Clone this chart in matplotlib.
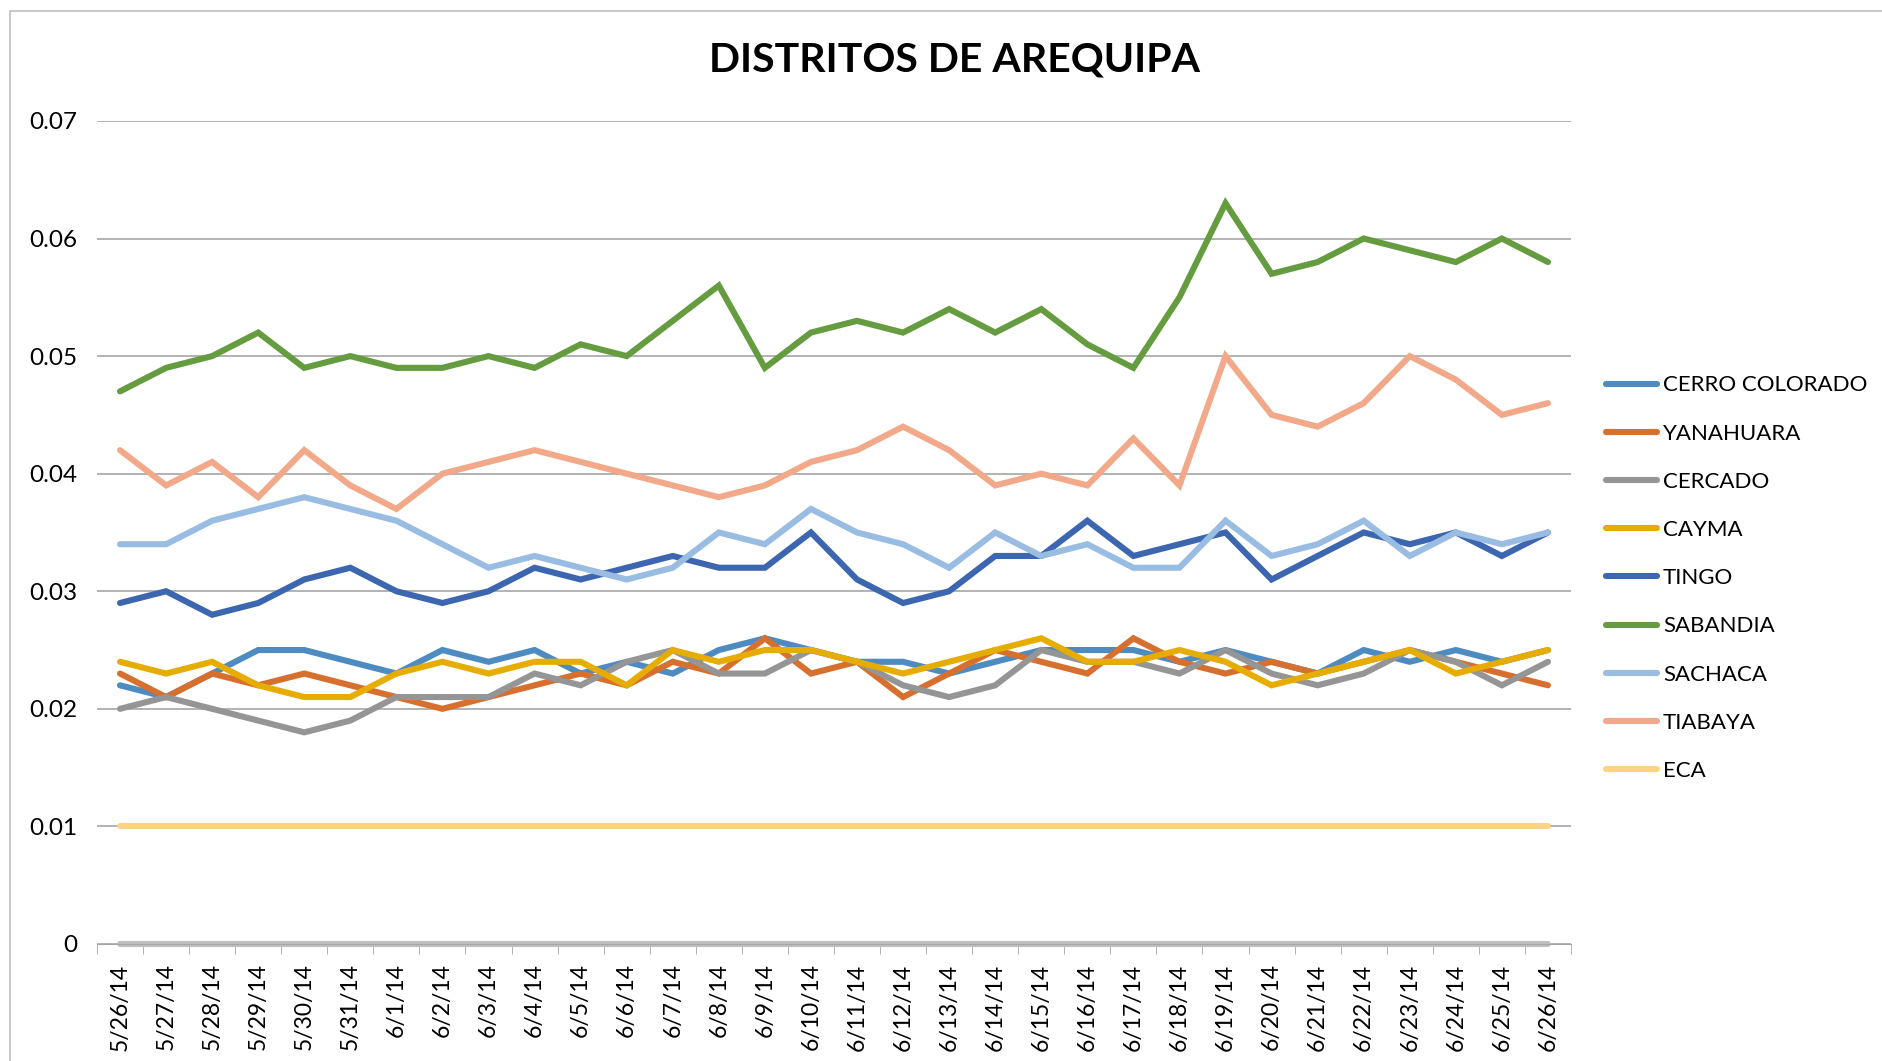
import matplotlib.pyplot as plt
import numpy as np
from matplotlib.patches import Rectangle

plt.rcParams["font.family"] = ["Lato", "DejaVu Sans"]

fechas = [
    "5/26/14", "5/27/14", "5/28/14", "5/29/14", "5/30/14", "5/31/14",
    "6/1/14", "6/2/14", "6/3/14", "6/4/14", "6/5/14", "6/6/14", "6/7/14",
    "6/8/14", "6/9/14", "6/10/14", "6/11/14", "6/12/14", "6/13/14",
    "6/14/14", "6/15/14", "6/16/14", "6/17/14", "6/18/14", "6/19/14",
    "6/20/14", "6/21/14", "6/22/14", "6/23/14", "6/24/14", "6/25/14",
    "6/26/14",
]

cerro_colorado = [0.022, 0.021, 0.023, 0.025, 0.025, 0.024, 0.023, 0.025,
                  0.024, 0.025, 0.023, 0.024, 0.023, 0.025, 0.026, 0.025,
                  0.024, 0.024, 0.023, 0.024, 0.025, 0.025, 0.025, 0.024,
                  0.025, 0.024, 0.023, 0.025, 0.024, 0.025, 0.024, 0.025]
yanahuara = [0.023, 0.021, 0.023, 0.022, 0.023, 0.022, 0.021, 0.020,
             0.021, 0.022, 0.023, 0.022, 0.024, 0.023, 0.026, 0.023,
             0.024, 0.021, 0.023, 0.025, 0.024, 0.023, 0.026, 0.024,
             0.023, 0.024, 0.023, 0.024, 0.025, 0.024, 0.023, 0.022]
cercado = [0.020, 0.021, 0.020, 0.019, 0.018, 0.019, 0.021, 0.021,
           0.021, 0.023, 0.022, 0.024, 0.025, 0.023, 0.023, 0.025,
           0.024, 0.022, 0.021, 0.022, 0.025, 0.024, 0.024, 0.023,
           0.025, 0.023, 0.022, 0.023, 0.025, 0.024, 0.022, 0.024]
cayma = [0.024, 0.023, 0.024, 0.022, 0.021, 0.021, 0.023, 0.024,
         0.023, 0.024, 0.024, 0.022, 0.025, 0.024, 0.025, 0.025,
         0.024, 0.023, 0.024, 0.025, 0.026, 0.024, 0.024, 0.025,
         0.024, 0.022, 0.023, 0.024, 0.025, 0.023, 0.024, 0.025]
tingo = [0.029, 0.030, 0.028, 0.029, 0.031, 0.032, 0.030, 0.029,
         0.030, 0.032, 0.031, 0.032, 0.033, 0.032, 0.032, 0.035,
         0.031, 0.029, 0.030, 0.033, 0.033, 0.036, 0.033, 0.034,
         0.035, 0.031, 0.033, 0.035, 0.034, 0.035, 0.033, 0.035]
sabandia = [0.047, 0.049, 0.050, 0.052, 0.049, 0.050, 0.049, 0.049,
            0.050, 0.049, 0.051, 0.050, 0.053, 0.056, 0.049, 0.052,
            0.053, 0.052, 0.054, 0.052, 0.054, 0.051, 0.049, 0.055,
            0.063, 0.057, 0.058, 0.060, 0.059, 0.058, 0.060, 0.058]
sachaca = [0.034, 0.034, 0.036, 0.037, 0.038, 0.037, 0.036, 0.034,
           0.032, 0.033, 0.032, 0.031, 0.032, 0.035, 0.034, 0.037,
           0.035, 0.034, 0.032, 0.035, 0.033, 0.034, 0.032, 0.032,
           0.036, 0.033, 0.034, 0.036, 0.033, 0.035, 0.034, 0.035]
tiabaya = [0.042, 0.039, 0.041, 0.038, 0.042, 0.039, 0.037, 0.040,
           0.041, 0.042, 0.041, 0.040, 0.039, 0.038, 0.039, 0.041,
           0.042, 0.044, 0.042, 0.039, 0.040, 0.039, 0.043, 0.039,
           0.050, 0.045, 0.044, 0.046, 0.050, 0.048, 0.045, 0.046]
eca = [0.010] * len(fechas)
base = [0.0] * len(fechas)

series = [
    ("CERRO COLORADO", cerro_colorado, "#4e8bc1"),
    ("YANAHUARA", yanahuara, "#d7702e"),
    ("CERCADO", cercado, "#959595"),
    ("CAYMA", cayma, "#e6ad00"),
    ("TINGO", tingo, "#3d66b0"),
    ("SABANDIA", sabandia, "#649c3f"),
    ("SACHACA", sachaca, "#99bce2"),
    ("TIABAYA", tiabaya, "#f1a98a"),
    ("ECA", eca, "#ffd383"),
]

fig = plt.figure(figsize=(18.83, 10.61), dpi=100)
ax = fig.add_axes([0.0515, 0.1103, 0.7828, 0.7757])

x = np.arange(len(fechas))
ax.plot(x, base, color="#c0c0c0", lw=4.4, solid_capstyle="round",
        label="_nolegend_", zorder=2, clip_on=False)
for nombre, valores, color in series:
    ax.plot(x, valores, color=color, lw=4.4, solid_capstyle="round",
            solid_joinstyle="miter", label=nombre, zorder=3)

ax.set_xlim(-0.5, len(fechas) - 0.5)
ax.set_ylim(0, 0.07)
ax.set_yticks(np.arange(0, 0.071, 0.01))
ax.set_yticklabels(["0", "0.01", "0.02", "0.03", "0.04", "0.05", "0.06", "0.07"])
ax.yaxis.grid(True, color="#a6a6a6", lw=1.2)
ax.set_axisbelow(True)

ax.set_xticks(x)
ax.set_xticklabels(fechas, rotation=90)
ax.set_xticks(np.arange(-0.5, len(fechas)), minor=True)
ax.tick_params(axis="x", which="major", length=0, pad=14, labelsize=16.5)
ax.tick_params(axis="x", which="minor", length=7, color="#a6a6a6")
ax.tick_params(axis="y", length=0, pad=14, labelsize=17.5)

for lado in ["left", "right", "top"]:
    ax.spines[lado].set_visible(False)
ax.spines["bottom"].set_color("#a6a6a6")

fig.text(0.507, 0.943, "DISTRITOS DE AREQUIPA", ha="center", va="center",
         fontsize=29.5, fontweight="bold")

fig.legend(loc="center left", bbox_to_anchor=(0.853, 0.455), frameon=False,
           fontsize=16, handlelength=2.3, handletextpad=0.25,
           labelspacing=1.27, borderpad=0, borderaxespad=0)

# chart border
fig.patches.append(Rectangle((0.0053, -0.1), 1.2, 1.09, transform=fig.transFigure,
                             fill=False, edgecolor="#bfbfbf", lw=1.2))

fig.savefig("out.png", dpi=100)
